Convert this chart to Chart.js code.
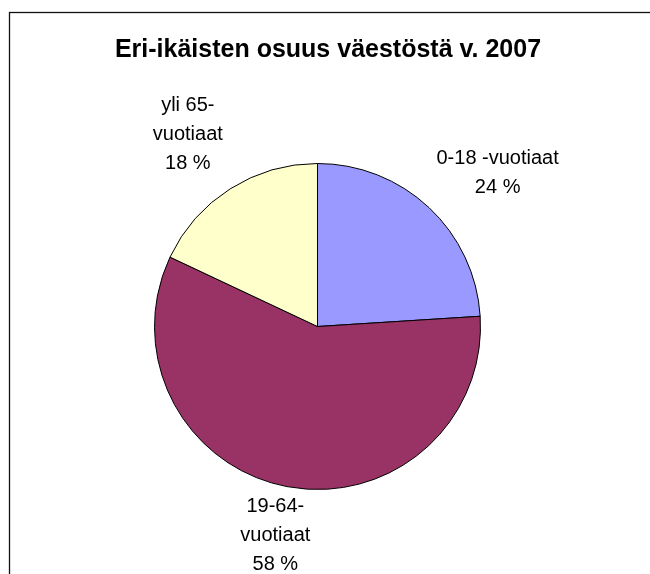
<!DOCTYPE html>
<html>
<head>
<meta charset="utf-8">
<script src="https://cdn.jsdelivr.net/npm/chart.js@4"></script>
<style>
  html, body { margin: 0; padding: 0; background: #fff; }
  #wrap { width: 650px; height: 574px; position: relative; }
</style>
</head>
<body>
<div id="wrap"><canvas id="pie-chart"></canvas></div>
<script>
const chartTitle = 'Eri-ikäisten osuus väestöstä v. 2007'

// categories (each split into the lines shown next to the slice)
const categories = [
  ['0-18 -vuotiaat'],
  ['19-64-', 'vuotiaat'],
  ['yli 65-', 'vuotiaat']
]
const values = [24, 58, 18]
const colors = ['#9999FF', '#993366', '#FFFFCC']

const ctx1 = document.getElementById('pie-chart');

// how far outside the rim each label box sits (horizontal, vertical)
const labelGap = [[39, 18], [27, 6], [44, 21]]
const lineH = 29

const framePlugin = {
  id: 'frame',
  beforeDraw(chart) {
    const c = chart.ctx
    c.save()
    c.fillStyle = '#fff'
    c.fillRect(0, 0, chart.width, chart.height)
    c.strokeStyle = '#111'
    c.lineWidth = 1.3
    c.strokeRect(9.5, 12.5, 700, 600)
    c.fillStyle = '#000'
    c.font = 'bold 25px "Liberation Sans", Arial, sans-serif'
    c.textAlign = 'center'
    c.textBaseline = 'alphabetic'
    c.fillText(chartTitle, 328, 57)
    c.restore()
  }
}

const labelPlugin = {
  id: 'sliceLabels',
  afterDraw(chart) {
    const c = chart.ctx
    const meta = chart.getDatasetMeta(0)
    c.save()
    c.fillStyle = '#000'
    c.font = '20px "Liberation Sans", Arial, sans-serif'
    c.textAlign = 'center'
    c.textBaseline = 'middle'
    meta.data.forEach((arc, i) => {
      const p = arc.getProps(['x', 'y', 'startAngle', 'endAngle', 'outerRadius'], true)
      const mid = (p.startAngle + p.endAngle) / 2
      const lines = categories[i].concat([values[i] + ' %'])
      let w = 0
      lines.forEach(l => { w = Math.max(w, c.measureText(l).width) })
      const h = lines.length * lineH
      const cx = p.x + Math.cos(mid) * (p.outerRadius + labelGap[i][0] + w / 2)
      const cy = p.y + Math.sin(mid) * (p.outerRadius + labelGap[i][1] + h / 2)
      lines.forEach((l, k) => {
        c.fillText(l, cx, cy - h / 2 + lineH * (k + 0.5))
      })
    })
    c.restore()
  }
}

const data = {
  labels: categories.map(l => l.join('')),
  datasets: [{
    data: values,
    backgroundColor: colors,
    borderColor: '#000',
    borderWidth: 1
  }]
};

let config = {
  type: 'pie',
  data: data,
  options: {
    responsive: false,
    animation: false,
    layout: { padding: { left: 154, right: 169, top: 163, bottom: 84 } },
    plugins: {
      legend: { display: false },
      tooltip: { enabled: false }
    }
  },
  plugins: [framePlugin, labelPlugin]
}

ctx1.width = 650
ctx1.height = 574
let pie = new Chart(ctx1, config);
</script>
</body>
</html>
